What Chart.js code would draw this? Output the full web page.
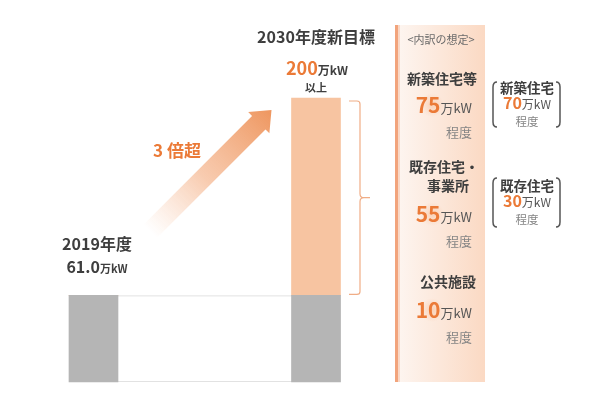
<!DOCTYPE html>
<html lang="ja">
<head>
<meta charset="utf-8">
<title>2030年度新目標</title>
<script src="https://cdn.jsdelivr.net/npm/chart.js@4/dist/chart.umd.min.js"></script>
<style>
  body { margin: 0; background: #fff; }
  #wrap { width: 590px; height: 399px; }
</style>
</head>
<body>
<div id="wrap"><canvas id="graph1" width="590" height="399"></canvas></div>
<script>
// données
const years = ["2019年度", "2030年度"];
const yearTitles = ["2019年度", "2030年度新目標"];
const totals = [61.0, 200];
const baseline = [61.0, 61.0];
const unit = "万kW";

const breakdownNames = [["新築住宅等"], ["既存住宅・", "事業所"], ["公共施設"]];
const breakdownValues = [75, 55, 10];
const detailNames = ["新築住宅", "既存住宅"];
const detailValues = [70, 30];

const increase = totals.map((t, i) => t - baseline[i]);

const FONT = '"Noto Sans CJK JP", "Noto Sans", sans-serif';
const ORANGE = "#eb7a37";
const DARK = "#3e3e3e";
const GREY_TXT = "#858585";

function f(size, weight) { return (weight || "normal") + " " + size + "px " + FONT; }

// texte avec plusieurs tailles sur une même ligne
function mixed(ctx, parts, x, y, align) {
  let w = 0;
  parts.forEach(p => { ctx.font = p[1]; w += ctx.measureText(p[0]).width; });
  let sx = align === "center" ? x - w / 2 : (align === "right" ? x - w : x);
  ctx.textAlign = "left";
  ctx.textBaseline = "alphabetic";
  parts.forEach(p => {
    ctx.font = p[1];
    ctx.fillStyle = p[2];
    ctx.fillText(p[0], sx, y);
    sx += ctx.measureText(p[0]).width;
  });
}

function glow(ctx, x, y, r) {
  let g = ctx.createRadialGradient(x, y, 0, x, y, r);
  g.addColorStop(0, "rgba(248,190,150,0.55)");
  g.addColorStop(1, "rgba(248,190,150,0)");
  ctx.fillStyle = g;
  ctx.beginPath();
  ctx.arc(x, y, r, 0, Math.PI * 2);
  ctx.fill();
}

function text(ctx, s, font, color, x, y, align) {
  ctx.font = font;
  ctx.fillStyle = color;
  ctx.textAlign = align || "center";
  ctx.textBaseline = "alphabetic";
  ctx.fillText(s, x, y);
}

// panneau de droite (fond)
const panelPlugin = {
  id: "panel",
  beforeDraw(chart) {
    const ctx = chart.ctx;
    ctx.save();
    let g = ctx.createLinearGradient(398, 0, 485, 0);
    g.addColorStop(0, "#fdf5f0");
    g.addColorStop(1, "#fbd9c3");
    ctx.fillStyle = g;
    ctx.fillRect(398, 25, 87, 357);
    ctx.fillStyle = "#f2a47c";
    ctx.fillRect(395, 25, 3, 357);
    ctx.fillStyle = "rgba(242,164,124,0.35)";
    ctx.fillRect(398, 25, 2, 357);
    ctx.restore();
  }
};

// rectangle blanc entre les deux barres
const basePlugin = {
  id: "baseBox",
  beforeDatasetsDraw(chart) {
    const ctx = chart.ctx;
    const b1 = chart.getDatasetMeta(0).data[0];
    const b2 = chart.getDatasetMeta(0).data[1];
    const y = chart.scales.y;
    const top = y.getPixelForValue(baseline[0]);
    const bot = y.getPixelForValue(0);
    ctx.save();
    ctx.strokeStyle = "#e2e2e2";
    ctx.lineWidth = 1;
    ctx.strokeRect(b1.x - b1.width / 2 + 0.5, top + 0.5, (b2.x + b2.width / 2) - (b1.x - b1.width / 2) - 1, bot - top - 1);
    ctx.restore();
  }
};

const labelPlugin = {
  id: "labels",
  afterDraw(chart) {
    const ctx = chart.ctx;
    const y = chart.scales.y;
    const b1 = chart.getDatasetMeta(0).data[0];
    const b2 = chart.getDatasetMeta(1).data[1];
    ctx.save();

    // flèche
    const T = [b2.x - 44.5, y.getPixelForValue(totals[1]) + 12];
    const s = Math.SQRT1_2;
    const d = [-s, s], p = [s, s];
    const h = 18, hw = 15, sw = 9.5, L = 172;
    const pt = (a, b) => [T[0] + d[0] * a + p[0] * b, T[1] + d[1] * a + p[1] * b];
    const pts = [pt(0, 0), pt(h, hw), pt(h, sw), pt(L, sw), pt(L, -sw), pt(h, -sw), pt(h, -hw)];
    const tail = pt(L, 0);
    let g = ctx.createLinearGradient(tail[0], tail[1], T[0], T[1]);
    g.addColorStop(0, "rgba(248,200,170,0)");
    g.addColorStop(0.45, "rgba(246,190,155,0.8)");
    g.addColorStop(1, "#ee965f");
    ctx.fillStyle = g;
    ctx.beginPath();
    pts.forEach((q, i) => i ? ctx.lineTo(q[0], q[1]) : ctx.moveTo(q[0], q[1]));
    ctx.closePath();
    ctx.fill();

    text(ctx, "3 倍超", f(17, "bold"), ORANGE, 177, 157);

    // barre 2019
    text(ctx, yearTitles[0], f(16, "bold"), DARK, b1.x + 3.5, 250);
    mixed(ctx, [[totals[0].toFixed(1), f(16, "bold"), DARK], [unit, f(11, "bold"), DARK]], b1.x + 3.5, 273, "center");

    // barre 2030
    text(ctx, yearTitles[1], f(16, "bold"), DARK, b2.x, 43);
    mixed(ctx, [[String(totals[1]), f(18, "bold"), ORANGE], [unit, f(12, "bold"), DARK]], b2.x + 1, 75, "center");
    text(ctx, "以上", f(11, "bold"), DARK, b2.x, 92);

    // accolade
    const top = y.getPixelForValue(totals[1]) + 3;
    const bot = y.getPixelForValue(baseline[1]) - 1;
    const mid = (top + bot) / 2;
    const bx = 360;
    ctx.strokeStyle = "#f0ad86";
    ctx.lineWidth = 1.2;
    ctx.beginPath();
    ctx.moveTo(349, top);
    ctx.lineTo(bx - 3, top);
    ctx.quadraticCurveTo(bx, top, bx, top + 3);
    ctx.lineTo(bx, mid - 4);
    ctx.quadraticCurveTo(bx, mid, bx + 4, mid);
    ctx.lineTo(370, mid);
    ctx.moveTo(bx + 4, mid);
    ctx.quadraticCurveTo(bx, mid, bx, mid + 4);
    ctx.lineTo(bx, bot - 3);
    ctx.quadraticCurveTo(bx, bot, bx - 3, bot);
    ctx.lineTo(349, bot);
    ctx.stroke();

    // panneau : détail
    text(ctx, "<内訳の想定>", f(11), "#6a6a6a", 441, 44);
    const nameY = [[84], [172, 191], [287]];
    const nameX = [[442], [444], [448]];
    const valY = [113, 222, 318];
    breakdownNames.forEach((lines, i) => {
      lines.forEach((ln, j) => text(ctx, ln, f(14, "bold"), DARK, nameX[i][j] === 448 && j === 1 ? 448 : (j === 1 ? 448 : nameX[i][0]), nameY[i][j]));
      glow(ctx, 432, valY[i] - 8, 12);
      mixed(ctx, [[String(breakdownValues[i]), f(21, "bold"), ORANGE], [unit, f(13), "#555"]], 472, valY[i], "right");
      text(ctx, "程度", f(13), GREY_TXT, 472, valY[i] + 24, "right");
    });

    // parenthèses
    const boxTop = [82, 178], boxBot = [127, 227];
    detailNames.forEach((nm, i) => {
      const t = boxTop[i], b = boxBot[i];
      ctx.strokeStyle = "#555";
      ctx.lineWidth = 1.5;
      ctx.beginPath();
      ctx.moveTo(497, t);
      ctx.quadraticCurveTo(493, t, 493, t + 5);
      ctx.lineTo(493, b - 5);
      ctx.quadraticCurveTo(493, b, 497, b);
      ctx.moveTo(556, t);
      ctx.quadraticCurveTo(560, t, 560, t + 5);
      ctx.lineTo(560, b - 5);
      ctx.quadraticCurveTo(560, b, 556, b);
      ctx.stroke();
      const base = t + (b - t) / 2;
      text(ctx, nm, f(13.5, "bold"), DARK, 527, base - 12);
      mixed(ctx, [[String(detailValues[i]), f(16, "bold"), ORANGE], [unit, f(12), "#555"]], 527, base + 4, "center");
      text(ctx, "程度", f(11.5), GREY_TXT, 527, base + 21);
    });

    ctx.restore();
  }
};

var ctx = document.getElementById("graph1").getContext("2d");
const myChart = new Chart(ctx, {
  type: "bar",
  data: {
    labels: years,
    datasets: [
      { label: "2019年度水準", data: baseline, backgroundColor: "#b5b5b5", barThickness: 49, clip: false },
      { label: "増加分", data: increase, backgroundColor: "#f7c4a1", barThickness: 49, clip: false }
    ]
  },
  options: {
    responsive: false,
    animation: false,
    layout: { padding: { left: 93.5, right: 274, top: 98, bottom: 17 } },
    scales: {
      x: { stacked: true, offset: false, display: false },
      y: { stacked: true, min: 0, max: 200, display: false }
    },
    plugins: {
      legend: { display: false },
      tooltip: { enabled: false }
    }
  },
  plugins: [panelPlugin, basePlugin, labelPlugin]
});
</script>
</body>
</html>
